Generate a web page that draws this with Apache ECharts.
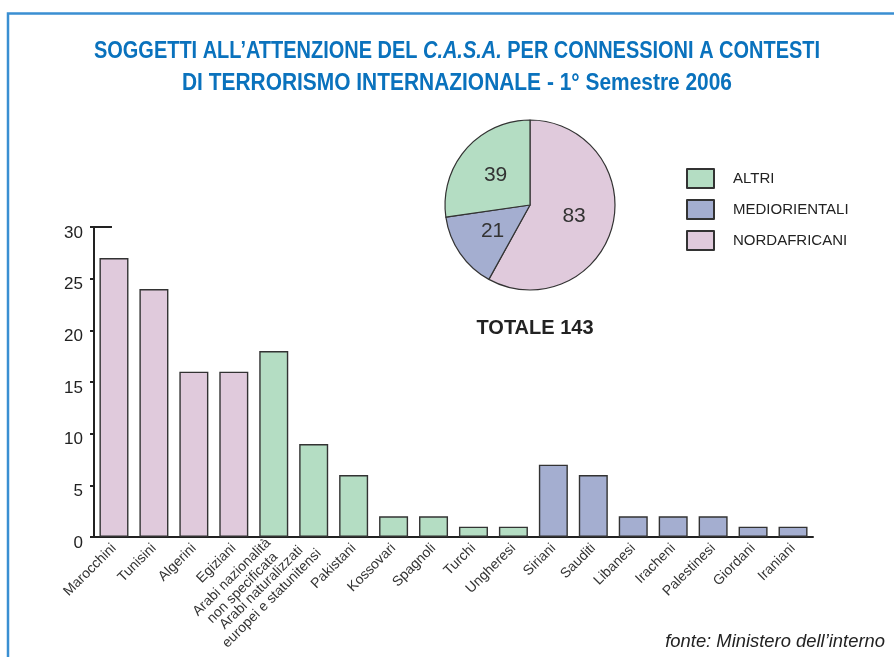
<!DOCTYPE html>
<html>
<head>
<meta charset="utf-8">
<script src="https://cdn.jsdelivr.net/npm/echarts@6/dist/echarts.min.js"></script>
<style>html,body{margin:0;padding:0;background:#fff}#c{width:894px;height:657px}</style>
</head>
<body>
<div id="c"></div>
<script>
// ---- data ----
const categories = ['Marocchini','Tunisini','Algerini','Egiziani','Arabi nazionalità\nnon specificata','Arabi naturalizzati\neuropei e statunitensi','Pakistani','Kossovari','Spagnoli','Turchi','Ungheresi','Siriani','Sauditi','Libanesi','Iracheni','Palestinesi','Giordani','Iraniani'];
const values = [27,24,16,16,18,9,6,2,2,1,1,7,6,2,2,2,1,1];
const groups = ['NORDAFRICANI','NORDAFRICANI','NORDAFRICANI','NORDAFRICANI','ALTRI','ALTRI','ALTRI','ALTRI','ALTRI','ALTRI','ALTRI','MEDIORIENTALI','MEDIORIENTALI','MEDIORIENTALI','MEDIORIENTALI','MEDIORIENTALI','MEDIORIENTALI','MEDIORIENTALI'];
const pieNames = ['NORDAFRICANI','MEDIORIENTALI','ALTRI'];
const pieValues = [83,21,39];
const legendOrder = ['ALTRI','MEDIORIENTALI','NORDAFRICANI'];
const yTicks = [0,5,10,15,20,25,30];
const titleLine1 = ['SOGGETTI ALL\u2019ATTENZIONE DEL ', 'C.A.S.A.', ' PER CONNESSIONI A CONTESTI'];
const titleLine2 = 'DI TERRORISMO INTERNAZIONALE - 1° Semestre 2006';

const colors = {NORDAFRICANI:'#e0cadc', MEDIORIENTALI:'#a4aed0', ALTRI:'#b4ddc3'};
const total = pieValues.reduce((a,b)=>a+b,0);
const font = "'Liberation Sans', Arial, Helvetica, sans-serif";
const titleColor = '#0a72bd';

function measure(text, f) {
  const c = document.createElement('canvas').getContext('2d');
  c.font = f;
  return c.measureText(text).width;
}
const tFont = "bold 24px 'Liberation Sans'";
const s1 = 726 / measure(titleLine1.join(''), tFont);
const s2 = 550 / measure(titleLine2, tFont);

const chart = echarts.init(document.getElementById('c'));
const option = {
  animation: false,
  backgroundColor: '#fff',
  textStyle: {fontFamily: font},
  title: [{
    text: 'TOTALE ' + total,
    left: 530, top: 313, textAlign: 'center',
    textStyle: {fontFamily: font, fontWeight: 'bold', fontSize: 20, color: '#222'}
  }, {
    text: 'fonte: Ministero dell\u2019interno',
    right: 4, top: 628,
    textStyle: {fontFamily: font, fontStyle: 'italic', fontWeight: 'normal', fontSize: 18.4, color: '#222'}
  }],
  legend: {
    data: legendOrder,
    orient: 'vertical',
    left: 686, top: 168,
    padding: 0,
    icon: 'rect',
    itemWidth: 27, itemHeight: 19, itemGap: 10,
    textStyle: {fontFamily: font, fontSize: 15, color: '#222', padding: [0,0,0,14]}
  },
  grid: {left: 94, right: 81, top: 227, bottom: 120},
  xAxis: {
    type: 'category',
    data: categories,
    axisLine: {lineStyle: {color: '#222', width: 2}},
    axisTick: {inside: true, length: 5, lineStyle: {color: '#222', width: 2}},
    axisLabel: {
      rotate: 45, fontSize: 14, color: '#333', margin: 9, interval: 0, fontFamily: font, lineHeight: 15,
      formatter: v => v.indexOf('\n') >= 0 ? v.split('\n').map(s => '{c|' + s + '}').join('\n') : v,
      rich: {c: {align: 'center', fontSize: 14, lineHeight: 15, color: '#333', fontFamily: font}}
    }
  },
  yAxis: {
    type: 'value', min: yTicks[0], max: yTicks[yTicks.length-1], interval: 5,
    splitLine: {show: false},
    axisLine: {show: true, lineStyle: {color: '#222', width: 2}},
    axisTick: {show: true, length: 4, lineStyle: {color: '#222', width: 2}},
    axisLabel: {fontSize: 17, color: '#222', margin: 11, verticalAlign: 'top', lineHeight: 12, fontFamily: font}
  },
  series: [{
    type: 'bar',
    data: values.map((v,i)=>({value: v, itemStyle: {color: colors[groups[i]]}})),
    barWidth: 29,
    itemStyle: {borderColor: '#333', borderWidth: 1.4},
    silent: true
  }, {
    type: 'pie',
    center: [530, 205],
    radius: 85,
    startAngle: 90,
    clockwise: true,
    data: pieNames.map((n,i)=>({name: n, value: pieValues[i], itemStyle: {color: colors[n]}})),
    itemStyle: {borderColor: '#333', borderWidth: 1.2},
    label: {show: true, position: 'inside', formatter: '{c}', fontSize: 21, color: '#333', fontFamily: font},
    labelLine: {show: false},
    silent: true
  }]
};
chart.setOption(option);

// title (condensed by horizontal scaling), frame and top cap of the y axis
const yTop = chart.convertToPixel({yAxisIndex: 0}, yTicks[yTicks.length-1]);
const xLeft = chart.convertToPixel({xAxisIndex: 0}, 0) - 20;
const baseTxt = {fontFamily: 'Liberation Sans', fontWeight: 'bold', fontSize: 24, fill: titleColor};
chart.setOption({
  graphic: [
    {type: 'polyline', shape: {points: [[8, 657], [8, 13.5], [894, 13.5]]}, style: {stroke: '#3a8fd2', lineWidth: 2.5, fill: null}, silent: true},
    {type: 'line', shape: {x1: xLeft, y1: yTop, x2: xLeft + 18, y2: yTop}, style: {stroke: '#222', lineWidth: 2}, silent: true},
    {type: 'text', x: 457, y: 51, scaleX: s1, silent: true,
     style: Object.assign({}, baseTxt, {
       text: '{b|' + titleLine1[0] + '}{i|' + titleLine1[1] + '}{b|' + titleLine1[2] + '}',
       align: 'center', verticalAlign: 'middle',
       rich: {b: Object.assign({}, baseTxt), i: Object.assign({}, baseTxt, {fontStyle: 'italic'})}
     })},
    {type: 'text', x: 457, y: 83, scaleX: s2, silent: true,
     style: Object.assign({}, baseTxt, {text: titleLine2, align: 'center', verticalAlign: 'middle'})}
  ]
});
</script>
</body>
</html>
